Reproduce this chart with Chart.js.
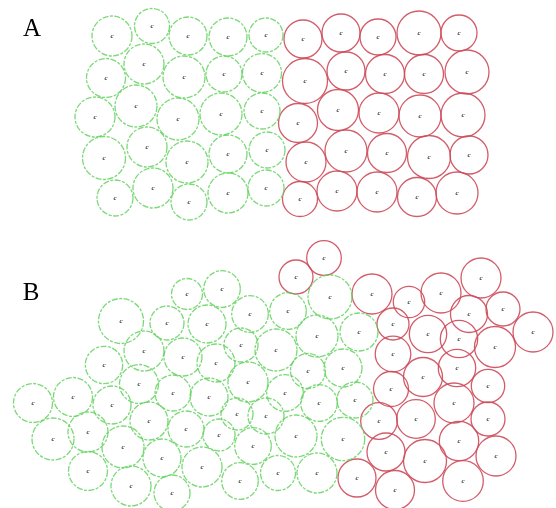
<!DOCTYPE html>
<html>
<head>
<meta charset="utf-8">
<script src="https://cdn.jsdelivr.net/npm/chart.js@4"></script>
<style>
html,body{margin:0;padding:0;background:#fff;}
#wrap{width:556px;height:508px;position:relative;}
</style>
</head>
<body>
<div id="wrap"><canvas id="c"></canvas></div>
<script>
// Panel A — green cells (x, y, radius)
const greenAX = [112,152,188,228,266, 106,144,184,224,262, 95,136,178,221,262, 104,147,187,228,267, 115,153,189,228,266];
const greenAY = [36,26,36,37,35, 78,64,77,74,73, 117,106,119,114,111, 158,147,162,154,150, 198,188,202,193,188];
const greenAR = [20,17.5,19,19,17, 19.5,20,21,18,19.5, 20,21,21,21,18, 21.5,20,21,19,18, 18,20,18,20,18];
// Panel A — red cells
const redAX = [303,341,378,419,459, 305,346,385,424,467, 298,338,379,420,463, 306,346,387,429,469, 300,337,377,417,457];
const redAY = [39,33,37,33,33, 81,71,74,74,72, 123,110,113,116,115, 162,151,153,157,155, 199,191,192,197,193];
const redAR = [19,19,18,22,18, 22.5,19,19.5,19.5,22, 19.5,20.5,20,21,22, 20,21,19.5,21.5,19, 17.5,20,20,19.5,21];
// Panel B — green cells
const greenBX = [187,121,167,144,183,104,139,173,33,73,112,149,186,53,88,123,162,88,131,172,
                 222,250,288,330,207,241,276,317,359,216,248,308,343,209,285,319,355,237,266,219,253,296,343,202,240,278,317];
const greenBY = [294,321,323,351,357,365,384,393,403,397,405,421,429,439,432,447,458,471,486,493,
                 289,314,311,297,324,345,350,336,332,363,382,371,368,397,393,403,400,414,416,435,446,436,439,467,481,473,473];
const greenBR = [15.5,22.5,17,20,19,18.7,19.5,18,19.5,19.5,19,19,18,21,20,21,19,19.5,20,18,
                 18.3,18.3,18.3,22,19,17,21,21,19,19,20,17.5,19,19,18.3,18.3,18,16,18,16,18.3,21,21.7,20,18.3,17.5,20];
// Panel B — red cells
const redBX = [324,296,372,357,409,441,481,469,503,533,393,428,459,495,393,423,457,488,391,454,379,416,488,459,386,425,496,463,395];
const redBY = [258,277,294,478,302,293,278,314,309,332,324,334,339,347,354,377,368,386,389,403,421,419,419,441,452,461,456,481,490];
const redBR = [17.3,17,20,19,15.7,20,20,18.5,17,20,16,18.7,18.7,20.5,17.8,19.5,18.7,16.7,17.5,20,18.3,19.3,17,19.7,19,21.5,20,20.3,19.5];

const panelLabels = ['A', 'B'];

function pts(xs, ys, rs){ return xs.map((x,i)=>({x:x, y:ys[i], r:rs[i]})); }

const GREEN = 'rgba(100,210,95,0.85)';
const RED = 'rgba(205,75,90,0.9)';

const dashPlugin = {
  id:'dash',
  beforeDatasetDraw(chart, args){
    const ds = chart.data.datasets[args.index];
    chart.ctx.setLineDash(ds.dash || []);
  },
  afterDatasetDraw(chart){ chart.ctx.setLineDash([]); }
};

const nucleusPlugin = {
  id:'nucleus',
  afterDatasetsDraw(chart){
    const ctx = chart.ctx;
    ctx.save();
    ctx.fillStyle = '#333';
    ctx.font = 'italic bold 7px "Liberation Serif"';
    ctx.textAlign = 'center';
    ctx.textBaseline = 'middle';
    chart.data.datasets.forEach((ds, i) => {
      chart.getDatasetMeta(i).data.forEach(el => { ctx.fillText('c', el.x, el.y); });
    });
    ctx.restore();
  }
};

const labelPlugin = {
  id:'panelLabel',
  afterDraw(chart, args, opts){
    const ctx = chart.ctx, xs = chart.scales.x, ys = chart.scales.y;
    ctx.save();
    ctx.fillStyle = '#000';
    ctx.font = '25px "Liberation Serif"';
    ctx.textAlign = 'center';
    ctx.textBaseline = 'alphabetic';
    opts.labels.forEach((t, i) => {
      ctx.fillText(t, xs.getPixelForValue(opts.x[i]), ys.getPixelForValue(opts.y[i]));
    });
    ctx.restore();
  }
};

new Chart(document.getElementById('c'), {
  type:'bubble',
  data:{
    datasets:[
      {label:'A green', data:pts(greenAX,greenAY,greenAR), borderColor:GREEN, dash:[6,1.5,3,1.5]},
      {label:'A red', data:pts(redAX,redAY,redAR), borderColor:RED},
      {label:'B green', data:pts(greenBX,greenBY,greenBR), borderColor:GREEN, dash:[6,1.5,3,1.5]},
      {label:'B red', data:pts(redBX,redBY,redBR), borderColor:RED}
    ]
  },
  options:{
    responsive:true,
    maintainAspectRatio:false,
    animation:false,
    events:[],
    layout:{padding:0, autoPadding:false},
    elements:{point:{backgroundColor:'rgba(0,0,0,0)', borderWidth:1.3, hoverRadius:0}},
    scales:{
      x:{type:'linear', min:0, max:556, display:false},
      y:{type:'linear', min:0, max:508, reverse:true, display:false}
    },
    plugins:{
      legend:{display:false},
      tooltip:{enabled:false},
      panelLabel:{labels:panelLabels, x:[32,31], y:[36,300]}
    }
  },
  plugins:[dashPlugin, nucleusPlugin, labelPlugin]
});
</script>
</body>
</html>
